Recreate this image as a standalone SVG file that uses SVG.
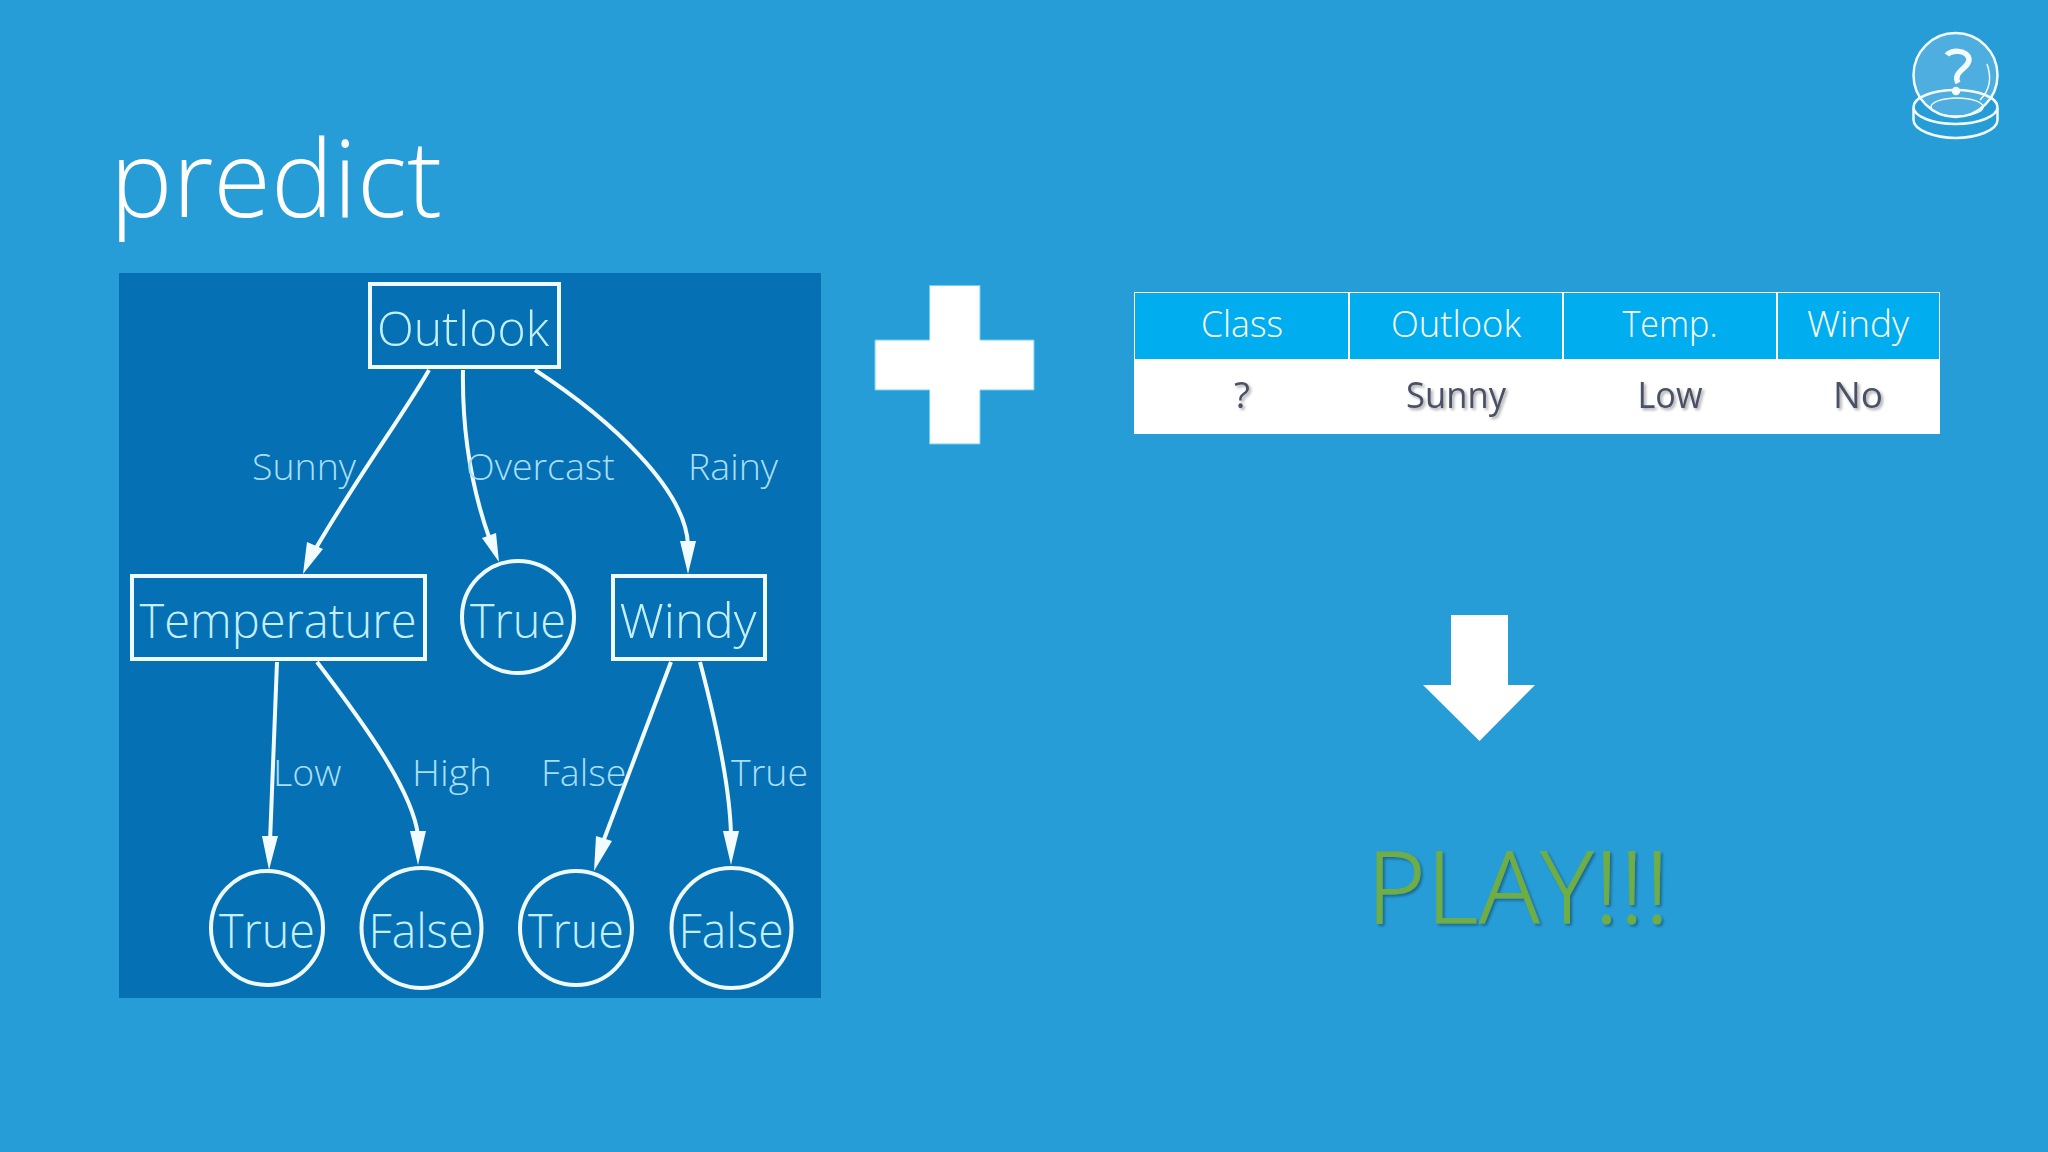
<svg xmlns="http://www.w3.org/2000/svg" width="2048" height="1152" viewBox="0 0 2048 1152">
<style>
.n{fill:none;stroke:#eefaff;stroke-width:4}
.nt{font-family:"Open Sans",sans-serif;font-weight:300;font-size:48px;fill:#c4effc;text-anchor:middle}
.el{font-family:"Open Sans",sans-serif;font-weight:300;font-size:37.500px;fill:#a9def6}
.c{fill:none;stroke:#f2fbff;stroke-width:4}
.h{fill:#f2fbff}
.th{font-family:"Open Sans",sans-serif;font-weight:300;font-size:37px;fill:#fff;text-anchor:middle}
.td{font-family:"Open Sans",sans-serif;font-weight:400;font-size:37px;fill:#4a5166;text-anchor:middle;filter:url(#s)}
</style>
<defs>
<filter id="s" x="-20%" y="-20%" width="140%" height="140%"><feDropShadow dx="2" dy="2" stdDeviation="1.500" flood-color="#000" flood-opacity=".35"/></filter>
</defs>
<rect width="2048" height="1152" fill="#279dd8"/>
<text x="110" y="217" font-family="Open Sans, sans-serif" font-weight="300" font-size="107" fill="#fff" textLength="332" lengthAdjust="spacingAndGlyphs">predict</text>
<rect x="119" y="273" width="702" height="725" fill="#0570b3"/>
<g id="connectors">
<path class="c" d="M429,370C400,420 365,465 316,548"/><path class="h" d="M303,574L307,542L323,549Z"/>
<path class="c" d="M463,370C462,430 472,490 490,540"/><path class="h" d="M499,562L482,538L496,533Z"/>
<path class="c" d="M535,370C612,420 686,490 688,545"/><path class="h" d="M688,574L680,541L696,541Z"/>
<path class="c" d="M277,662L270,842"/><path class="h" d="M269,870L262,836L278,836Z"/>
<path class="c" d="M317,662C365,725 412,790 418,835"/><path class="h" d="M418,865L410,831L426,831Z"/>
<path class="c" d="M671,662L603,842"/><path class="h" d="M594,871L596,836L612,841Z"/>
<path class="c" d="M700,662C718,730 730,790 731,835"/><path class="h" d="M731,865L723,831L739,831Z"/>
</g>
<g id="outlook"><rect class="n" x="370" y="284" width="189" height="83"/><text class="nt" x="463" y="346" textLength="172" lengthAdjust="spacingAndGlyphs">Outlook</text></g>
<g id="temperature"><rect class="n" x="132" y="576" width="293" height="83"/><text class="nt" x="278" y="638" textLength="277" lengthAdjust="spacingAndGlyphs">Temperature</text></g>
<g id="true1"><ellipse class="n" cx="518" cy="617" rx="56" ry="56"/><text class="nt" x="518" y="638" textLength="96" lengthAdjust="spacingAndGlyphs">True</text></g>
<g id="windy"><rect class="n" x="613" y="576" width="152" height="83"/><text class="nt" x="688" y="638" textLength="137" lengthAdjust="spacingAndGlyphs">Windy</text></g>
<g id="true2"><ellipse class="n" cx="267" cy="928" rx="56" ry="57"/><text class="nt" x="267" y="948" textLength="96" lengthAdjust="spacingAndGlyphs">True</text></g>
<g id="false1"><ellipse class="n" cx="421.500" cy="928" rx="60" ry="60"/><text class="nt" x="421" y="948" textLength="105" lengthAdjust="spacingAndGlyphs">False</text></g>
<g id="true3"><ellipse class="n" cx="576" cy="928" rx="56" ry="57"/><text class="nt" x="576" y="948" textLength="96" lengthAdjust="spacingAndGlyphs">True</text></g>
<g id="false2"><ellipse class="n" cx="731.500" cy="928" rx="60" ry="60"/><text class="nt" x="731" y="948" textLength="105" lengthAdjust="spacingAndGlyphs">False</text></g>
<text class="el" x="252" y="480">Sunny</text>
<text class="el" x="466" y="480">Overcast</text>
<text class="el" x="688" y="480">Rainy</text>
<text class="el" x="273" y="786">Low</text>
<text class="el" x="412" y="786" textLength="80" lengthAdjust="spacingAndGlyphs">High</text>
<text class="el" x="541" y="786">False</text>
<text class="el" x="731" y="786">True</text>
<path id="plus" d="M929.500,285.500H980V340H1034V390H980V444H929.500V390H875V340H929.500Z" fill="#fff" stroke="#6fd0f5" stroke-width="1"/>
<g id="table">
<rect x="1134" y="292" width="806" height="142" fill="#fff"/>
<rect x="1135" y="293" width="213" height="66" fill="#00aeef"/>
<rect x="1350" y="293" width="212" height="66" fill="#00aeef"/>
<rect x="1564" y="293" width="212" height="66" fill="#00aeef"/>
<rect x="1778" y="293" width="161" height="66" fill="#00aeef"/>
<text class="th" x="1242" y="337" textLength="82" lengthAdjust="spacingAndGlyphs">Class</text><text class="th" x="1456" y="337" textLength="130" lengthAdjust="spacingAndGlyphs">Outlook</text><text class="th" x="1670" y="337" textLength="95" lengthAdjust="spacingAndGlyphs">Temp.</text><text class="th" x="1858" y="337">Windy</text>
<text class="td" x="1242" y="408">?</text><text class="td" x="1456" y="408" textLength="100" lengthAdjust="spacingAndGlyphs">Sunny</text><text class="td" x="1670" y="408" textLength="65" lengthAdjust="spacingAndGlyphs">Low</text><text class="td" x="1858" y="408">No</text>
</g>
<path id="down" d="M1451,615H1508V685H1535L1479.500,741L1423,685H1451Z" fill="#fff"/>
<text x="1367" y="923" font-family="Open Sans, sans-serif" font-weight="300" font-size="100" fill="#6fae45" stroke="#6fae45" stroke-width="1" textLength="302" lengthAdjust="spacing" style="filter:url(#s)">PLAY!!!</text>
<g id="globe" fill="none" stroke="#f4fbff" stroke-width="2.500">
<circle cx="1955.500" cy="75" r="42" fill="#fff" fill-opacity=".18"/>
<ellipse cx="1955.500" cy="107" rx="42" ry="17"/>
<ellipse cx="1957" cy="107" rx="26" ry="9" stroke-width="1.500"/>
<path d="M1913.500,108V120C1913.500,130 1935,138 1955.500,138C1977,138 1997.500,130 1997.500,120V108"/>
<path d="M1987,64C1992,78 1990,90 1980,100" stroke-width="1.500"/>
<path d="M1947,55C1950,50 1967,49 1969,59C1970,68 1952,71 1958,83" stroke-width="5.500"/>
<circle cx="1956" cy="91" r="3" fill="#fff"/>
</g>
</svg>
